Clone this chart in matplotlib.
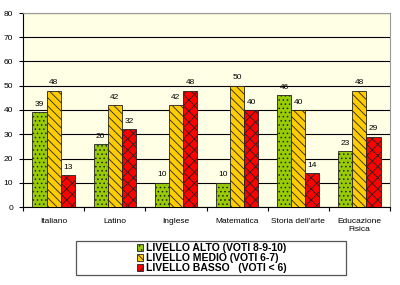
import matplotlib
matplotlib.use("Agg")
import matplotlib.pyplot as plt
import numpy as np
from matplotlib.patches import Patch, Rectangle

categories = ["Italiano", "Latino", "Inglese", "Matematica", "Storia dell'arte", "Educazione\nFisica"]
alto = [39, 26, 10, 10, 46, 23]
medio = [48, 42, 42, 50, 40, 48]
basso = [13, 32, 48, 40, 14, 29]
series_names = ["LIVELLO ALTO (VOTI 8-9-10)", "LIVELLO MEDIO (VOTI 6-7)", "LIVELLO BASSO   (VOTI < 6)"]
colors = ["#99CC00", "#FFCC00", "#FF0000"]
hatches = ["....", "\\\\\\\\", "xxx"]

plt.rcParams['font.family'] = ['Liberation Sans', 'DejaVu Sans']
plt.rcParams['hatch.linewidth'] = 0.6

fig = plt.figure(figsize=(4, 2.85), dpi=100)
ax = fig.add_axes([23/400, 1-207/285, 367/400, 194/285])
ax.set_facecolor("#FFFFE6")

x = np.arange(len(categories))
w = 0.23
for i, (vals, c, h) in enumerate(zip([alto, medio, basso], colors, hatches)):
    pos = x + (i - 1) * w
    bars = ax.bar(pos, vals, width=w, color=c, edgecolor="#222222", linewidth=0.6,
                  hatch=h, zorder=3)
    for b, v in zip(bars, vals):
        ax.text(b.get_x() + b.get_width()/2, v + 1.8, str(v), ha="center", va="bottom",
                fontsize=6, zorder=4)

ax.set_xlim(-0.5, len(categories) - 0.5)
ax.set_ylim(0, 80)
ax.set_yticks(range(0, 81, 10))
ax.yaxis.grid(True, color="black", linewidth=0.8, zorder=0)
ax.set_axisbelow(True)
ax.set_xticks(np.arange(-0.5, len(categories), 1.0))
ax.set_xticklabels([])
ax.set_xticks(x, minor=True)
ax.set_xticklabels(categories, minor=True, fontsize=6)
ax.tick_params(axis="x", which="minor", length=0, pad=8)
ax.tick_params(axis="x", which="major", length=3, direction="out", color="black")
ax.tick_params(axis="y", labelsize=6, length=3, direction="out", pad=4)
for s in ["top", "right"]:
    ax.spines[s].set_color("#999999")
ax.spines["bottom"].set_color("black")
ax.spines["left"].set_color("black")

fig.add_artist(Rectangle((76/400, 1-275/285), 270/400, 34/285, transform=fig.transFigure,
                         fill=False, edgecolor="#555555", linewidth=0.9))
handles = [Patch(facecolor=c, edgecolor="#222222", hatch=h, linewidth=0.6)
           for c, h in zip(colors, hatches)]
leg = fig.legend(handles, series_names, loc="center",
                 bbox_to_anchor=(212/400, 1-258/285),
                 prop={'weight': 'bold', 'size': 7.5},
                 handlelength=0.6, handleheight=0.6, handletextpad=0.3,
                 labelspacing=0.0, borderpad=0.2, frameon=False)

fig.savefig("out.png", dpi=100)
